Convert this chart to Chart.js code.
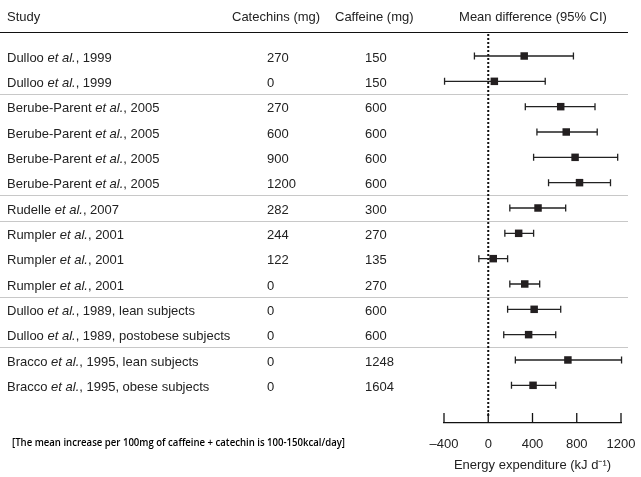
<!DOCTYPE html>
<html>
<head>
<meta charset="utf-8">
<script src="https://cdn.jsdelivr.net/npm/chart.js@4"></script>
<style>
  html, body { margin: 0; padding: 0; background: #fff; }
  #wrap { width: 641px; height: 477px; }
</style>
</head>
<body>
<div id="wrap"><canvas id="chart_forest"></canvas></div>
<script>
/* data */
const study_author = ['Dulloo', 'Dulloo', 'Berube-Parent', 'Berube-Parent', 'Berube-Parent', 'Berube-Parent',
  'Rudelle', 'Rumpler', 'Rumpler', 'Rumpler', 'Dulloo', 'Dulloo', 'Bracco', 'Bracco'];
const study_suffix = [', 1999', ', 1999', ', 2005', ', 2005', ', 2005', ', 2005',
  ', 2007', ', 2001', ', 2001', ', 2001', ', 1989, lean subjects', ', 1989, postobese subjects',
  ', 1995, lean subjects', ', 1995, obese subjects'];
const catechins = [270, 0, 270, 600, 900, 1200, 282, 244, 122, 0, 0, 0, 0, 0];
const caffeine = [150, 150, 600, 600, 600, 600, 300, 270, 135, 270, 600, 600, 1248, 1604];
const mean_diff = [325, 55, 655, 705, 785, 825, 450, 275, 45, 330, 415, 365, 720, 405];
const ci_low = [-125, -395, 335, 440, 410, 545, 195, 150, -85, 195, 175, 140, 245, 210];
const ci_high = [770, 515, 965, 985, 1170, 1105, 700, 410, 175, 465, 655, 610, 1205, 610];
const group_breaks = [1.5, 5.5, 6.5, 9.5, 11.5]; // 그룹 구분선 (행 사이)
const x_ticks = [-400, 0, 400, 800, 1200];

const FONT = '"Liberation Sans", Arial, sans-serif';

// 표 텍스트, 구분선, 오차막대 그리기
const forestPlugin = {
  id: 'forest',
  beforeDatasetsDraw(chart) {
    const ctx = chart.ctx;
    const x = chart.scales.x;
    const y = chart.scales.y;
    ctx.save();

    // header
    ctx.fillStyle = '#222';
    ctx.font = '13px ' + FONT;
    ctx.textBaseline = 'middle';
    ctx.textAlign = 'left';
    ctx.fillText('Study', 7, 17);
    ctx.fillText('Catechins (mg)', 232, 17);
    ctx.fillText('Caffeine (mg)', 335, 17);
    ctx.textAlign = 'center';
    ctx.fillText('Mean difference (95% CI)', 533, 17);

    ctx.strokeStyle = '#111';
    ctx.lineWidth = 1.2;
    ctx.beginPath();
    ctx.moveTo(0, 32.5);
    ctx.lineTo(628, 32.5);
    ctx.stroke();

    // group separators
    ctx.strokeStyle = '#c8c8c8';
    ctx.lineWidth = 1;
    group_breaks.forEach(b => {
      const py = Math.round(y.getPixelForValue(b)) + 0.5;
      ctx.beginPath();
      ctx.moveTo(0, py);
      ctx.lineTo(628, py);
      ctx.stroke();
    });

    // rows
    ctx.textAlign = 'left';
    for (let i = 0; i < study_author.length; i++) {
      const py = y.getPixelForValue(i) + 2;
      let px = 7;
      ctx.font = '13px ' + FONT;
      ctx.fillText(study_author[i] + ' ', px, py);
      px += ctx.measureText(study_author[i] + ' ').width;
      ctx.font = 'italic 13px ' + FONT;
      ctx.fillText('et al.', px, py);
      px += ctx.measureText('et al.').width;
      ctx.font = '13px ' + FONT;
      ctx.fillText(study_suffix[i], px, py);
      ctx.fillText(String(catechins[i]), 267, py);
      ctx.fillText(String(caffeine[i]), 365, py);
    }

    // zero line
    const x0 = x.getPixelForValue(0);
    ctx.strokeStyle = '#111';
    ctx.lineWidth = 2;
    ctx.setLineDash([2, 2]);
    ctx.beginPath();
    ctx.moveTo(x0, 34);
    ctx.lineTo(x0, 418);
    ctx.stroke();
    ctx.setLineDash([]);

    // error bars
    ctx.strokeStyle = '#222';
    ctx.lineWidth = 1.3;
    for (let i = 0; i < mean_diff.length; i++) {
      const py = y.getPixelForValue(i);
      const xl = x.getPixelForValue(ci_low[i]);
      const xh = x.getPixelForValue(ci_high[i]);
      ctx.beginPath();
      ctx.moveTo(xl, py);
      ctx.lineTo(xh, py);
      ctx.moveTo(xl, py - 3.5);
      ctx.lineTo(xl, py + 3.5);
      ctx.moveTo(xh, py - 3.5);
      ctx.lineTo(xh, py + 3.5);
      ctx.stroke();
    }

    // axis tick marks pointing up
    const yb = chart.chartArea.bottom;
    ctx.strokeStyle = '#111';
    ctx.lineWidth = 1.3;
    x.ticks.forEach(t => {
      const px = x.getPixelForValue(t.value);
      ctx.beginPath();
      ctx.moveTo(px, yb);
      ctx.lineTo(px, yb - 10);
      ctx.stroke();
    });

    // note
    ctx.fillStyle = '#000';
    ctx.font = '600 11.5px "Open Sans", "Noto Sans", sans-serif';
    ctx.textAlign = 'left';
    ctx.fillText('[The mean increase per 100mg of caffeine + catechin is 100-150kcal/day]', 12, 443, 333);

    ctx.restore();
  }
};

const rows = mean_diff.map((v, i) => ({ x: v, y: i }));

const config_forest = {
  type: 'scatter',
  data: {
    datasets: [{
      label: 'Mean difference',
      data: rows,
      pointStyle: 'rect',
      pointRadius: 5.3,
      pointHoverRadius: 5.3,
      backgroundColor: '#231f20',
      borderColor: '#231f20',
      borderWidth: 0
    }]
  },
  options: {
    responsive: true,
    maintainAspectRatio: false,
    animation: false,
    layout: { padding: { left: 444, right: 0, top: 33, bottom: 0 } },
    plugins: {
      legend: { display: false },
      tooltip: { enabled: false }
    },
    scales: {
      x: {
        type: 'linear',
        min: -400,
        max: 1200,
        afterBuildTicks: s => { s.ticks = x_ticks.map(v => ({ value: v })); },
        afterFit: s => { s.height = 54; s.paddingRight = 20; },
        grid: { display: false, drawTicks: false },
        border: { display: true, color: '#111', width: 1.3 },
        ticks: {
          padding: 14,
          color: '#222',
          font: { family: FONT, size: 13 },
          callback: v => String(v).replace('-', '\u2013')
        },
        title: {
          display: true,
          text: 'Energy expenditure (kJ d\u207B\u00B9)',
          color: '#222',
          font: { family: FONT, size: 13 },
          padding: { top: 4, bottom: 4 }
        }
      },
      y: {
        type: 'linear',
        display: false,
        reverse: true,
        min: -0.908,
        max: 14.488
      }
    }
  },
  plugins: [forestPlugin]
};

var chart_forest = new Chart(document.getElementById('chart_forest'), config_forest);
</script>
</body>
</html>
